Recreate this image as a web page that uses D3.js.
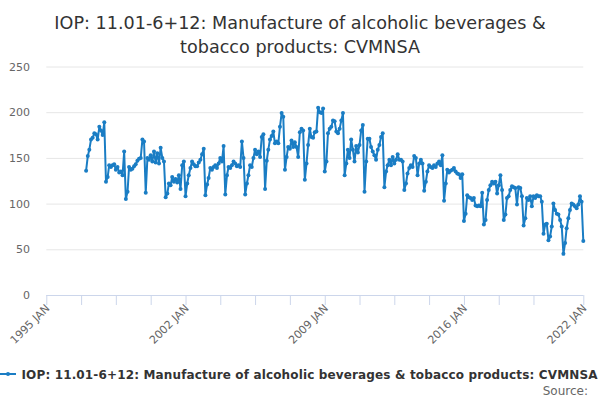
<!DOCTYPE html>
<html>
<head>
<meta charset="utf-8">
<script src="https://cdn.jsdelivr.net/npm/d3@7"></script>
<style>
  html, body { margin: 0; padding: 0; background: #fff; }
  svg { display: block; font-family: "DejaVu Sans", sans-serif; }
</style>
</head>
<body>
<svg id="chart" width="600" height="400"></svg>
<script>
// ---- Data (monthly, Jan..Dec per year) ----
const startYear = 1997;
const v1997 = [136,152,159,170,172,177,176,170,184,180,175,189];
const v1998 = [124,129,142,140,142,143,137,140,134,135,131,157];
const v1999 = [105,113,140,137,138,141,143,147,149,150,170,168];
const v2000 = [112,150,148,153,146,157,145,155,144,161,150,146];
const v2001 = [107,111,122,120,129,124,127,123,131,116,142,146];
const v2002 = [108,122,131,139,146,143,141,141,145,148,154,160];
const v2003 = [109,121,128,139,137,140,142,139,144,150,146,163];
const v2004 = [110,131,140,139,142,146,144,141,142,140,168,150];
const v2005 = [110,122,131,142,140,150,159,154,157,151,173,176];
const v2006 = [116,147,159,170,174,179,166,168,166,184,199,195];
const v2007 = [137,151,162,160,169,162,167,162,151,178,182,180];
const v2008 = [126,144,164,182,173,172,178,179,205,200,199,204];
const v2009 = [135,146,177,182,184,191,190,179,177,182,191,199];
const v2010 = [131,144,159,150,170,159,146,163,156,164,180,186];
const v2011 = [113,146,171,171,162,157,153,148,159,164,173,177];
const v2012 = [118,135,142,148,142,151,144,148,154,148,148,146];
const v2013 = [115,122,133,139,142,140,152,150,131,144,148,144];
const v2014 = [114,124,135,142,140,139,142,140,144,146,142,153];
const v2015 = [103,122,137,134,136,137,139,135,133,132,128,132];
const v2016 = [81,89,109,107,106,104,106,98,97,98,97,112];
const v2017 = [77,82,104,115,120,124,122,124,111,120,131,115];
const v2018 = [82,88,106,108,115,119,118,117,99,118,117,108];
const v2019 = [76,84,106,104,108,97,108,106,109,108,108,102];
const v2020 = [67,77,78,60,64,75,100,93,89,88,82,75];
const v2021 = [45,57,73,84,93,100,99,97,95,99,108,102];
const v2022 = [59];

const yTicks = [0, 50, 100, 150, 200, 250];
const xLabelTicks = ["1995 JAN", "2002 JAN", "2009 JAN", "2016 JAN", "2022 JAN"];

const titleLines = ["IOP: 11.01-6+12: Manufacture of alcoholic beverages &", "tobacco products: CVMNSA"];
const seriesName = "IOP: 11.01-6+12: Manufacture of alcoholic beverages & tobacco products: CVMNSA";

// ---- Build series ----
const years = [v1997,v1998,v1999,v2000,v2001,v2002,v2003,v2004,v2005,v2006,v2007,v2008,v2009,
               v2010,v2011,v2012,v2013,v2014,v2015,v2016,v2017,v2018,v2019,v2020,v2021,v2022];
const data = [];
years.forEach((arr, yi) => {
  arr.forEach((v, m) => data.push({ date: new Date(startYear + yi, m, 1), value: v }));
});

const svg = d3.select("#chart");
const plotLeft = 46.3, plotRight = 583.3, plotTop = 66.5, plotBottom = 295;

const x = d3.scaleTime()
  .domain([new Date(1995, 0, 1), new Date(2022, 0, 1)])
  .range([plotLeft, plotRight]);
const y = d3.scaleLinear().domain([0, 250]).range([plotBottom, plotTop]);

// Title
svg.append("g").selectAll("text").data(titleLines).join("text")
  .attr("x", 300).attr("y", (d, i) => 28.5 + i * 24)
  .attr("text-anchor", "middle")
  .attr("fill", "#333333").attr("font-size", 17.6)
  .text(d => d);

// Grid lines
svg.append("g").selectAll("line").data(yTicks.filter(t => t > 0)).join("line")
  .attr("x1", plotLeft).attr("x2", plotRight)
  .attr("y1", d => y(d) + 0.5).attr("y2", d => y(d) + 0.5)
  .attr("stroke", "#e6e6e6").attr("stroke-width", 1);

// Y axis labels
svg.append("g").selectAll("text").data(yTicks).join("text")
  .attr("x", 30).attr("y", d => y(d) + 4)
  .attr("text-anchor", "end")
  .attr("fill", "#666666").attr("font-size", 11)
  .text(d => d);

// X axis
const start = new Date(1995, 0, 1);
const tickDates = d3.range(0, 15).map(k => d3.timeMonth.offset(start, 21 * k));
tickDates.push(new Date(2022, 0, 1));
const labelDates = xLabelTicks.map(s => new Date(+s.slice(0, 4), 0, 1));

const xAxis = d3.axisBottom(x)
  .tickValues(tickDates)
  .tickSize(10)
  .tickFormat("");
const gx = svg.append("g").attr("transform", `translate(0,${plotBottom})`).call(xAxis);
gx.select(".domain").attr("stroke", "#ccd6eb").attr("d", `M${plotLeft},0.5H${plotRight}`);
gx.selectAll(".tick line").attr("stroke", "#ccd6eb");

svg.append("g").selectAll("text").data(labelDates).join("text")
  .attr("transform", d => `translate(${x(d) + 4},${plotBottom + 14}) rotate(-45)`)
  .attr("text-anchor", "end")
  .attr("fill", "#666666").attr("font-size", 11)
  .text((d, i) => xLabelTicks[i]);

// Series
const color = "#1a7dc4";
const line = d3.line().x(d => x(d.date)).y(d => y(d.value));
svg.append("path").datum(data)
  .attr("d", line)
  .attr("fill", "none").attr("stroke", color)
  .attr("stroke-width", 2).attr("stroke-linejoin", "round");
svg.append("g").selectAll("circle").data(data).join("circle")
  .attr("cx", d => x(d.date)).attr("cy", d => y(d.value))
  .attr("r", 2).attr("fill", color);

// Legend
const lg = svg.append("g").attr("transform", "translate(0,374)");
lg.append("line").attr("x1", 0).attr("x2", 16).attr("y1", 0).attr("y2", 0)
  .attr("stroke", color).attr("stroke-width", 2);
lg.append("circle").attr("cx", 8).attr("cy", 0).attr("r", 2).attr("fill", color);
lg.append("text").attr("x", 21.5).attr("y", 4.5)
  .attr("font-size", 12).attr("font-weight", "bold").attr("fill", "#333333")
  .attr("textLength", 576).attr("lengthAdjust", "spacing")
  .text(seriesName);

// Source
svg.append("text").attr("x", 588).attr("y", 395)
  .attr("text-anchor", "end").attr("font-size", 12).attr("fill", "#666666")
  .text("Source:");
</script>
</body>
</html>
